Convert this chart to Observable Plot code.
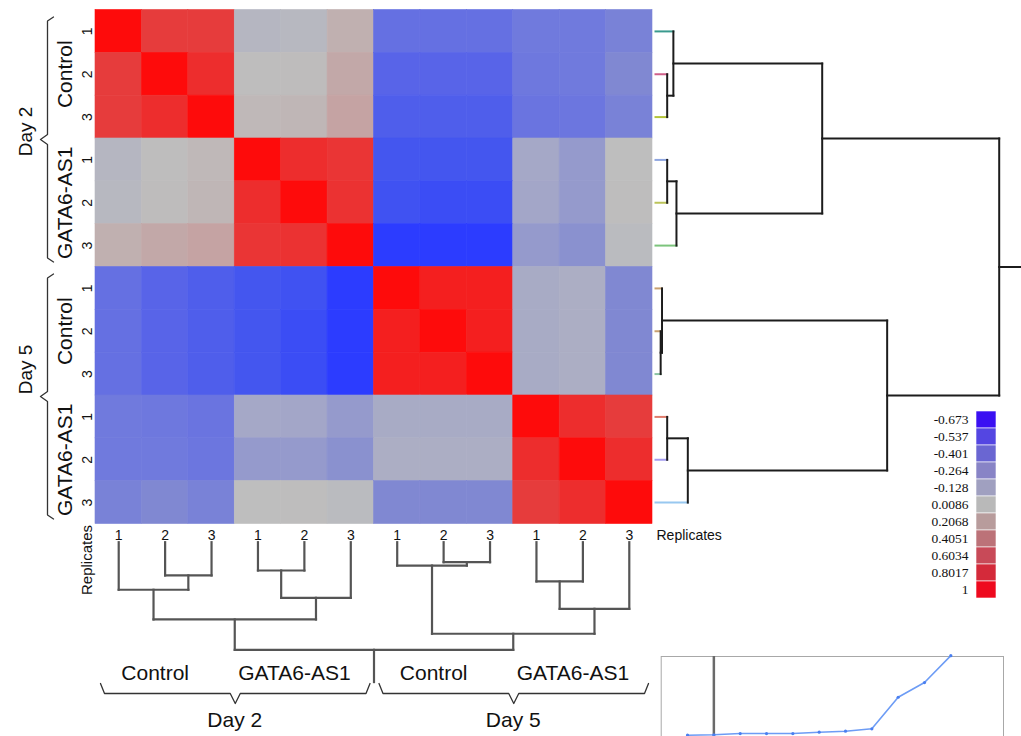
<!DOCTYPE html>
<html><head><meta charset="utf-8">
<script src="https://cdn.jsdelivr.net/npm/d3@7"></script>
<script src="https://cdn.jsdelivr.net/npm/@observablehq/plot@0.6"></script>
<style>
html,body{margin:0;padding:0;background:#fff;overflow:hidden}
#chart{position:relative;width:1021px;height:736px;overflow:hidden;background:#fff}
#chart svg{position:absolute;left:0;top:0;max-width:none}
</style></head><body><div id="chart"></div>
<script>
// ---------- data ----------
const samples = ["D2C1","D2C2","D2C3","D2G1","D2G2","D2G3","D5C1","D5C2","D5C3","D5G1","D5G2","D5G3"];
const replicates = ["1","2","3","1","2","3","1","2","3","1","2","3"];
const correlation = [
  [ 1.00, 0.80, 0.80,-0.05,-0.04, 0.18,-0.44,-0.44,-0.44,-0.39,-0.39,-0.34],
  [ 0.80, 1.00, 0.86, 0.01, 0.03, 0.28,-0.50,-0.50,-0.50,-0.40,-0.39,-0.30],
  [ 0.80, 0.86, 1.00, 0.08, 0.10, 0.36,-0.54,-0.54,-0.54,-0.42,-0.41,-0.34],
  [-0.05, 0.01, 0.08, 1.00, 0.86, 0.83,-0.59,-0.59,-0.59,-0.14,-0.22, 0.00],
  [-0.04, 0.03, 0.10, 0.86, 1.00, 0.84,-0.61,-0.63,-0.63,-0.15,-0.22, 0.01],
  [ 0.18, 0.28, 0.36, 0.83, 0.84, 1.00,-0.70,-0.70,-0.70,-0.22,-0.26,-0.02],
  [-0.44,-0.50,-0.54,-0.59,-0.61,-0.70, 1.00, 0.92, 0.92,-0.12,-0.10,-0.30],
  [-0.44,-0.50,-0.54,-0.59,-0.63,-0.70, 0.92, 1.00, 0.92,-0.12,-0.10,-0.30],
  [-0.44,-0.50,-0.54,-0.59,-0.63,-0.70, 0.92, 0.92, 1.00,-0.12,-0.10,-0.30],
  [-0.39,-0.40,-0.42,-0.14,-0.15,-0.22,-0.12,-0.12,-0.12, 1.00, 0.86, 0.80],
  [-0.39,-0.39,-0.41,-0.22,-0.22,-0.26,-0.10,-0.10,-0.10, 0.86, 1.00, 0.86],
  [-0.34,-0.30,-0.34, 0.00, 0.01,-0.02,-0.30,-0.30,-0.30, 0.80, 0.86, 1.00]
];
const colorStops = [-0.7,-0.6,-0.5,-0.4,-0.3,-0.2,-0.1,0,0.2,0.4,0.8,1];
const colorRamp  = ["#2c3cff","#4254f0","#5864e8","#6e78de","#8088d2","#9a9ecb","#acaec4","#bebebe","#c0aeae","#c6a0a0","#e63c3c","#fe0b0b"];
const groups = [
  {label:"Control",   start:0, end:3},
  {label:"GATA6-AS1", start:3, end:6},
  {label:"Control",   start:6, end:9},
  {label:"GATA6-AS1", start:9, end:12}
];
const days = [{label:"Day 2", start:0, end:6},{label:"Day 5", start:6, end:12}];
// dendrogram merges (leaves 0..11, internal nodes 12..)
const rowMerges = [[1,2],[0,12],[3,4],[14,5],[13,15],[7,8],[6,17],[9,10],[19,11],[18,20],[16,21]];
const rowMergeHeights = [0.034,0.052,0.034,0.061,0.485,0.015,0.019,0.034,0.094,0.674,1];
const colMerges = [[1,2],[0,12],[3,4],[14,5],[13,15],[7,8],[6,17],[9,10],[19,11],[18,20],[16,21]];
const colMergeHeights = [0.309,0.442,0.263,0.517,0.718,0.186,0.217,0.365,0.619,0.851,1];
const rowLeafColors = ["#3a9a8e","#d0608a","#b4c43a","#8fa6e0","#bcc45a","#7cc47c","#c8a070","#c8a070","#8cc4a4","#e07c6c","#a49cf0","#98c8f0"];
const legendLabels = ["-0.673","-0.537","-0.401","-0.264","-0.128","0.0086","0.2068","0.4051","0.6034","0.8017","1"];
const legendColors = ["#3a10f2","#5446e2","#6a66d2","#8884c6","#a0a0c0","#b9b9b9","#b89c9c","#bc7278","#c84a58","#d42a3a","#ee0a1e"];
const insetValues = [0.063,0.068,0.083,0.083,0.083,0.099,0.111,0.139,0.515,0.69,1.01];
const insetCutoff = 2;

// ---------- layout ----------
const W = 1021, H = 736;
const FONT = "'Liberation Sans', Arial, Helvetica, sans-serif";
const chart = document.getElementById("chart");
const base = {width: W, height: H, style: {background: "transparent", fontFamily: FONT, color: "#111"}};

const cells = [];
correlation.forEach((row, i) => row.forEach((v, j) => cells.push({row: i, col: j, value: v})));
const mid = d => (d.start + d.end) / 2;

const heat = Plot.plot({
  ...base,
  marginLeft: 95, marginRight: 369, marginTop: 9.5, marginBottom: 212.5,
  x: {domain: [0, 12], axis: null},
  y: {domain: [0, 12], reverse: true, axis: null},
  color: {type: "linear", domain: colorStops, range: colorRamp, interpolate: "rgb"},
  marks: [
    Plot.rect(cells, {x1: "col", x2: d => d.col + 1, y1: "row", y2: d => d.row + 1, fill: "value", stroke: "value", strokeWidth: 0.6}),
    Plot.text(samples, {x: (d, i) => i + 0.5, y: 12, dy: 12, text: (d, i) => replicates[i], fontSize: 14}),
    Plot.text(samples, {x: 0, y: (d, i) => i + 0.5, dx: -8, rotate: -90, text: (d, i) => replicates[i], fontSize: 14}),
    Plot.text(["Replicates"], {x: 12, y: 12, dx: 4, dy: 12, textAnchor: "start", fontSize: 14}),
    Plot.text(["Replicates"], {x: 0, y: 12, dx: -8, dy: 36, rotate: -90, fontSize: 15}),
    Plot.text(groups, {x: 0, y: mid, dx: -30, rotate: -90, text: "label", fontSize: 21}),
    Plot.text(days.slice(0, 1), {x: 0, y: mid, dx: -70, dy: -7, rotate: -90, text: "label", fontSize: 19}),
    Plot.text(days.slice(1), {x: 0, y: mid, dx: -70, dy: -26, rotate: -90, text: "label", fontSize: 19}),
    Plot.text(groups, {x: mid, y: 12, dx: -10, dy: 149, text: "label", fontSize: 21}),
    Plot.text(days, {x: mid, y: 12, dy: 196, text: "label", fontSize: 21})
  ]
});
chart.appendChild(heat);
const sx = heat.scale("x"), sy = heat.scale("y");

// braces
function hBrace(id, x0, x1, yEnd, yLine, yTip) {
  const m = (x0 + x1) / 2;
  return [[x0,yEnd],[x0+4,yLine],[m-5,yLine],[m,yTip],[m+5,yLine],[x1-4,yLine],[x1,yEnd]].map(([x, y]) => ({id, x, y}));
}
function vBrace(id, y0, y1, xEnd, xLine, xTip) {
  const m = (y0 + y1) / 2;
  return [[xEnd,y0],[xLine,y0+4],[xLine,m-5],[xTip,m],[xLine,m+5],[xLine,y1-4],[xEnd,y1]].map(([x, y]) => ({id, x, y}));
}
const bottom = sy.apply(12), left = sx.apply(0);
const bracePts = [
  ...days.flatMap(d => hBrace("b" + d.label, sx.apply(d.start) + 5, sx.apply(d.end) - 4, bottom + 159.5, bottom + 169.5, bottom + 179.5)),
  ...days.flatMap(d => vBrace("l" + d.label, sy.apply(d.start) + 7, sy.apply(d.end) - 5, left - 42, left - 48, left - 55))
];
chart.appendChild(Plot.plot({
  ...base,
  x: {type: "identity", axis: null}, y: {type: "identity", axis: null},
  marks: [Plot.line(bracePts, {x: "x", y: "y", z: "id", stroke: "#333", strokeWidth: 1.3})]
}));

// dendrograms
function dendrogram(pairs, heights, n, stub) {
  const pos = d3.range(n).map(i => i + 0.5), hgt = d3.range(n).map(() => 0);
  const segs = [];
  pairs.forEach(([a, b], k) => {
    const h = heights[k];
    for (const c of [a, b]) segs.push({p1: pos[c], p2: pos[c], h1: hgt[c], h2: h, leaf: c < n ? c : -1});
    segs.push({p1: pos[a], p2: pos[b], h1: h, h2: h, leaf: -1});
    pos.push((pos[a] + pos[b]) / 2); hgt.push(h);
  });
  const rp = pos[pos.length - 1], rh = hgt[hgt.length - 1];
  segs.push({p1: rp, p2: rp, h1: rh, h2: rh * stub, leaf: -1});
  return segs;
}
const rowSegs = dendrogram(rowMerges, rowMergeHeights, 12, 1.1);
chart.appendChild(Plot.plot({
  ...base,
  x: {domain: [0, 1], range: [sx.apply(12) + 3, 998.7], axis: null},
  y: {domain: [0, 12], range: [sy.apply(0), sy.apply(12)], axis: null},
  color: {type: "identity"},
  marks: [
    Plot.link(rowSegs, {x1: "h1", x2: "h2", y1: "p1", y2: "p2",
      stroke: d => d.leaf >= 0 ? rowLeafColors[d.leaf] : "#1c1c1c", strokeWidth: 2, strokeLinecap: "square"})
  ]
}));
const colSegs = dendrogram(colMerges, colMergeHeights, 12, 1.3);
chart.appendChild(Plot.plot({
  ...base,
  x: {domain: [0, 12], range: [sx.apply(0), sx.apply(12)], axis: null},
  y: {domain: [0, 1], range: [bottom + 18.2, 649.3], axis: null},
  marks: [
    Plot.link(colSegs, {x1: "p1", x2: "p2", y1: "h1", y2: "h2", stroke: "#555", strokeWidth: 2.2, strokeLinecap: "square"})
  ]
}));

// legend
chart.appendChild(Plot.plot({
  ...base,
  marginLeft: 976, marginRight: 25, marginTop: 408.3, marginBottom: 136,
  x: {domain: ["k"], axis: null, padding: 0},
  y: {type: "band", domain: legendLabels, padding: 0, axis: null},
  color: {type: "identity"},
  marks: [
    Plot.cell(legendLabels, {x: () => "k", y: d => d, fill: (d, i) => legendColors[i], stroke: "#fff", strokeWidth: 0.6}),
    Plot.axisY({tickSize: 0, tickPadding: 8, fontSize: 13.5, fontFamily: "'Liberation Serif', 'Times New Roman', serif"})
  ]
}));

// inset
chart.appendChild(Plot.plot({
  width: W, height: 760, style: {background: "transparent", fontFamily: FONT},
  marginLeft: 660.7, marginRight: 18, marginTop: 656, marginBottom: 20,
  x: {domain: [0, 13], axis: null},
  y: {domain: [0, 1], axis: null},
  marks: [
    Plot.frame({stroke: "#a8a8a8"}),
    Plot.ruleX([insetCutoff], {stroke: "#6a6a6a", strokeWidth: 2.5}),
    Plot.line(insetValues, {x: (d, i) => i + 1, y: d => d, stroke: "#6d9cf5", strokeWidth: 1.6}),
    Plot.dot(insetValues, {x: (d, i) => i + 1, y: d => d, r: 1.6, fill: "#4a7ff0"})
  ]
}));
</script></body></html>
